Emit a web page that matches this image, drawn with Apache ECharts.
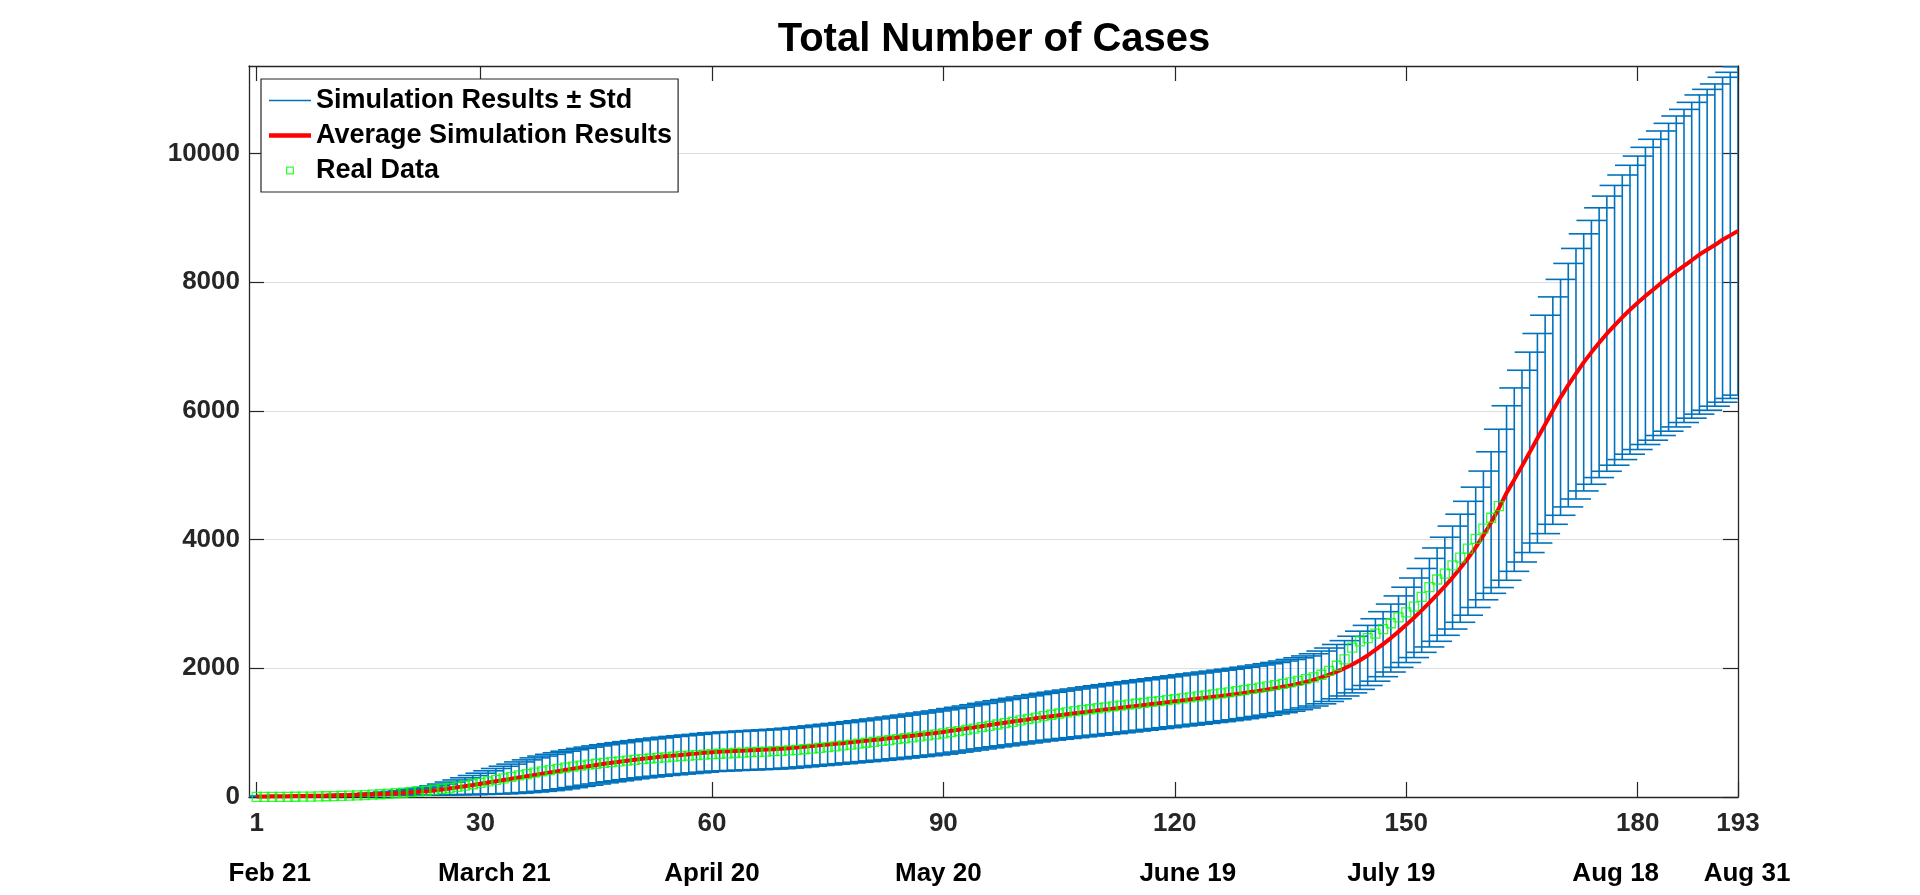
<!DOCTYPE html>
<html>
<head>
<meta charset="utf-8">
<script src="https://cdn.jsdelivr.net/npm/echarts@6/dist/echarts.min.js"></script>
<style>
html,body{margin:0;padding:0;background:#fff;}
#chart{width:1920px;height:895px;}
</style>
</head>
<body>
<div id="chart"></div>
<script>
// ---- data (day index = position in array + 1) ----
var meanCases = [
8, 9, 10, 11, 12, 14, 16, 18, 20, 22,
25, 28, 31, 34, 38, 42, 47, 52, 57, 62,
70, 80, 90, 102, 115, 132, 150, 168, 186, 205,
225, 245, 264, 283, 303, 323, 343, 362, 381, 400,
420, 440, 460, 479, 498, 516, 532, 548, 564, 579,
594, 607, 620, 632, 643, 654, 664, 674, 686, 697,
703, 709, 715, 720, 726, 732, 737, 743, 749, 759,
769, 780, 792, 803, 814, 826, 837, 850, 862, 874,
887, 899, 912, 925, 939, 953, 967, 981, 995, 1010,
1028, 1046, 1064, 1082, 1101, 1120, 1138, 1155, 1172, 1189,
1206, 1224, 1241, 1256, 1271, 1286, 1300, 1315, 1330, 1345,
1359, 1373, 1387, 1401, 1416, 1430, 1444, 1458, 1472, 1487,
1501, 1515, 1529, 1543, 1557, 1571, 1586, 1600, 1617, 1634,
1652, 1671, 1691, 1712, 1735, 1760, 1788, 1820, 1858, 1900,
1948, 2000, 2058, 2125, 2200, 2285, 2375, 2470, 2570, 2675,
2785, 2900, 3020, 3145, 3275, 3410, 3555, 3710, 3880, 4065,
4265, 4485, 4724, 4932, 5142, 5356, 5575, 5790, 6005, 6211,
6400, 6578, 6754, 6910, 7060, 7200, 7330, 7455, 7572, 7680,
7787, 7883, 7984, 8077, 8167, 8253, 8341, 8430, 8504, 8577,
8660, 8728, 8797
];
var stdCases = [
3, 3, 4, 4, 5, 5, 6, 7, 8, 9,
10, 11, 12, 14, 16, 18, 21, 25, 30, 35,
42, 50, 60, 72, 86, 100, 115, 130, 148, 165,
182, 198, 214, 228, 242, 254, 265, 274, 282, 288,
292, 294, 295, 296, 296, 296, 296, 296, 296, 296,
296, 296, 297, 297, 298, 298, 299, 299, 300, 300,
301, 302, 303, 304, 305, 306, 307, 308, 309, 310,
311, 312, 313, 314, 316, 317, 319, 320, 322, 324,
326, 328, 330, 332, 334, 336, 338, 340, 342, 344,
346, 348, 350, 352, 354, 356, 358, 360, 362, 364,
366, 368, 370, 372, 374, 376, 378, 380, 382, 384,
386, 388, 389, 390, 391, 392, 393, 394, 395, 396,
397, 398, 398, 399, 399, 400, 400, 400, 400, 400,
400, 400, 400, 401, 402, 403, 404, 406, 410, 415,
422, 430, 440, 452, 467, 485, 505, 528, 555, 585,
618, 652, 688, 725, 762, 800, 840, 885, 935, 1000,
1100, 1230, 1356, 1425, 1490, 1557, 1628, 1697, 1767, 1833,
1892, 1947, 1998, 2050, 2096, 2138, 2174, 2211, 2245, 2280,
2309, 2338, 2366, 2392, 2416, 2433, 2454, 2480, 2493, 2504,
2525, 2534, 2552
];
var realCases = [
1, 1, 2, 3, 3, 4, 5, 7, 9, 12,
15, 18, 21, 24, 30, 36, 43, 50, 58, 66,
75, 86, 97, 110, 124, 140, 158, 177, 198, 220,
243, 266, 290, 313, 335, 357, 378, 398, 418, 437,
455, 472, 488, 503, 517, 530, 543, 555, 566, 577,
588, 598, 608, 617, 626, 634, 642, 650, 658, 665,
672, 678, 684, 690, 696, 701, 706, 712, 718, 725,
733, 742, 752, 763, 775, 788, 801, 815, 829, 843,
857, 871, 885, 899, 913, 928, 943, 958, 974, 990,
1007, 1025, 1044, 1064, 1085, 1106, 1127, 1148, 1169, 1190,
1212, 1234, 1256, 1278, 1298, 1316, 1333, 1349, 1364, 1379,
1393, 1407, 1421, 1435, 1449, 1463, 1477, 1491, 1505, 1519,
1533, 1548, 1563, 1578, 1594, 1610, 1627, 1644, 1662, 1680,
1699, 1718, 1738, 1759, 1781, 1805, 1831, 1860, 1900, 1960,
2040, 2140, 2320, 2420, 2470, 2540, 2610, 2700, 2790, 2870,
2960, 3110, 3260, 3380, 3470, 3600, 3720, 3860, 4010, 4170,
4340, 4520
];
var xTickValues = [1, 30, 60, 90, 120, 150, 180, 193];
var dateLabels = ['Feb 21', 'March 21', 'April 20', 'May 20', 'June 19', 'July 19', 'Aug 18', 'Aug 31'];
var yTickValues = [0, 2000, 4000, 6000, 8000, 10000];
var seriesNames = ['Simulation Results \u00B1 Std', 'Average Simulation Results', 'Real Data'];
var chartTitle = 'Total Number of Cases';

// ---- presentation ----
var FONT = "'Liberation Sans', Arial, Helvetica, sans-serif";
var AXIS_COLOR = '#262626';
var X_MIN = 0, X_MAX = 193, Y_MIN = 0, Y_MAX = 11360;
// horizontal shift (px) of each date label relative to its tick
var dateShift = [13, 14, 0, -5, 13, -15, -22, 9];

var errData = meanCases.map(function (m, i) { return [i + 1, m, stdCases[i]]; });
var meanData = meanCases.map(function (m, i) { return [i + 1, m]; });
var realData = realCases.map(function (v, i) { return [i + 1, v]; });

var rich = {};
dateShift.forEach(function (s, i) {
  rich['d' + i] = {
    fontFamily: FONT, fontSize: 26, fontWeight: 'bold', color: '#000',
    padding: s >= 0 ? [0, 0, 0, 2 * s] : [0, -2 * s, 0, 0]
  };
});

var chart = echarts.init(document.getElementById('chart'), null, {renderer: 'canvas'});
var option = {
  animation: false,
  backgroundColor: '#ffffff',
  title: {
    text: chartTitle,
    left: 989, top: 15, textAlign: 'center',
    textStyle: {fontFamily: FONT, fontSize: 40, fontWeight: 'bold', color: '#000'}
  },
  legend: {
    orient: 'vertical', left: 261, top: 79,
    padding: [8, 6, 8, 8], itemGap: 8,
    itemWidth: 42, itemHeight: 8,
    backgroundColor: '#fff', borderColor: AXIS_COLOR, borderWidth: 1.2, borderRadius: 0,
    align: 'left',
    textStyle: {fontFamily: FONT, fontSize: 27, fontWeight: 'bold', color: '#000', lineHeight: 27},
    data: [
      {name: seriesNames[0], icon: 'path://M0,0H42V1.6H0Z', itemStyle: {color: '#0072BD', borderWidth: 0}},
      {name: seriesNames[1], icon: 'path://M0,0H42V4.5H0Z', itemStyle: {color: '#ff0000', borderWidth: 0}},
      {name: seriesNames[2], icon: 'path://M0,0H8V8H0Z M1.3,1.3V6.7H6.7V1.3Z', itemStyle: {color: '#00ff00', borderWidth: 0}}
    ]
  },
  grid: {left: 249, right: 182, top: 66, bottom: 98, containLabel: false, outerBoundsMode: 'none'},
  xAxis: [
    {
      type: 'value', min: X_MIN, max: X_MAX, position: 'bottom',
      axisLine: {show: true, onZero: false, lineStyle: {color: AXIS_COLOR, width: 1.3}},
      axisTick: {show: true, inside: true, length: 15, customValues: xTickValues, lineStyle: {color: AXIS_COLOR, width: 1.2}},
      axisLabel: {show: true, customValues: xTickValues, margin: 14,
        formatter: function (v) { return String(v); },
        fontFamily: FONT, fontSize: 26, fontWeight: 'bold', color: AXIS_COLOR},
      splitLine: {show: false}
    },
    {
      type: 'value', min: X_MIN, max: X_MAX, position: 'bottom',
      axisLine: {show: false}, axisTick: {show: false}, splitLine: {show: false},
      axisLabel: {show: true, customValues: xTickValues, margin: 64,
        formatter: function (v) {
          var i = xTickValues.indexOf(v);
          return i < 0 ? '' : '{d' + i + '|' + dateLabels[i] + '}';
        },
        rich: rich,
        fontFamily: FONT, fontSize: 26, fontWeight: 'bold', color: '#000'}
    },
    {
      type: 'value', min: X_MIN, max: X_MAX, position: 'top',
      axisLine: {show: true, onZero: false, lineStyle: {color: AXIS_COLOR, width: 1.3}},
      axisTick: {show: true, inside: true, length: 15, customValues: xTickValues, lineStyle: {color: AXIS_COLOR, width: 1.2}},
      axisLabel: {show: false}, splitLine: {show: false}
    }
  ],
  yAxis: [
    {
      type: 'value', min: Y_MIN, max: Y_MAX, position: 'left',
      axisLine: {show: true, onZero: false, lineStyle: {color: AXIS_COLOR, width: 1.3}},
      axisTick: {show: true, inside: true, length: 15, customValues: yTickValues, lineStyle: {color: AXIS_COLOR, width: 1.2}},
      axisLabel: {show: true, customValues: yTickValues, margin: 9,
        formatter: function (v) { return String(v); },
        fontFamily: FONT, fontSize: 26, fontWeight: 'bold', color: AXIS_COLOR},
      splitLine: {show: true, lineStyle: {color: '#dedede', width: 1.2}}
    },
    {
      type: 'value', min: Y_MIN, max: Y_MAX, position: 'right',
      axisLine: {show: true, onZero: false, lineStyle: {color: AXIS_COLOR, width: 1.3}},
      axisTick: {show: true, inside: true, length: 15, customValues: yTickValues, lineStyle: {color: AXIS_COLOR, width: 1.2}},
      axisLabel: {show: false}, splitLine: {show: false}
    }
  ],
  series: [
    {
      name: seriesNames[0], type: 'custom', xAxisIndex: 0, yAxisIndex: 0,
      clip: true, z: 2,
      itemStyle: {color: '#0072BD'},
      encode: {x: 0, y: 1},
      data: errData,
      renderItem: function (params, api) {
        var x = api.value(0), m = api.value(1), s = api.value(2);
        var top = api.coord([x, m + s]);
        var bot = api.coord([x, m - s]);
        var hw = 15;
        var st = {stroke: '#0072BD', lineWidth: 1.6, fill: null};
        return {
          type: 'group',
          children: [
            {type: 'line', shape: {x1: top[0], y1: top[1], x2: bot[0], y2: bot[1]}, style: st},
            {type: 'line', shape: {x1: top[0] - hw, y1: top[1], x2: top[0] + hw, y2: top[1]}, style: st},
            {type: 'line', shape: {x1: bot[0] - hw, y1: bot[1], x2: bot[0] + hw, y2: bot[1]}, style: st}
          ]
        };
      }
    },
    {
      name: seriesNames[1], type: 'line', xAxisIndex: 0, yAxisIndex: 0,
      data: meanData, symbol: 'none', showSymbol: false, smooth: false, z: 3,
      lineStyle: {color: '#ff0000', width: 4},
      itemStyle: {color: '#ff0000'}
    },
    {
      name: seriesNames[2], type: 'scatter', xAxisIndex: 0, yAxisIndex: 0,
      data: realData, symbol: 'rect', symbolSize: 9, z: 4,
      itemStyle: {color: 'rgba(0,0,0,0)', borderColor: '#00ff00', borderWidth: 1.3}
    }
  ]
};
chart.setOption(option);
</script>
</body>
</html>
